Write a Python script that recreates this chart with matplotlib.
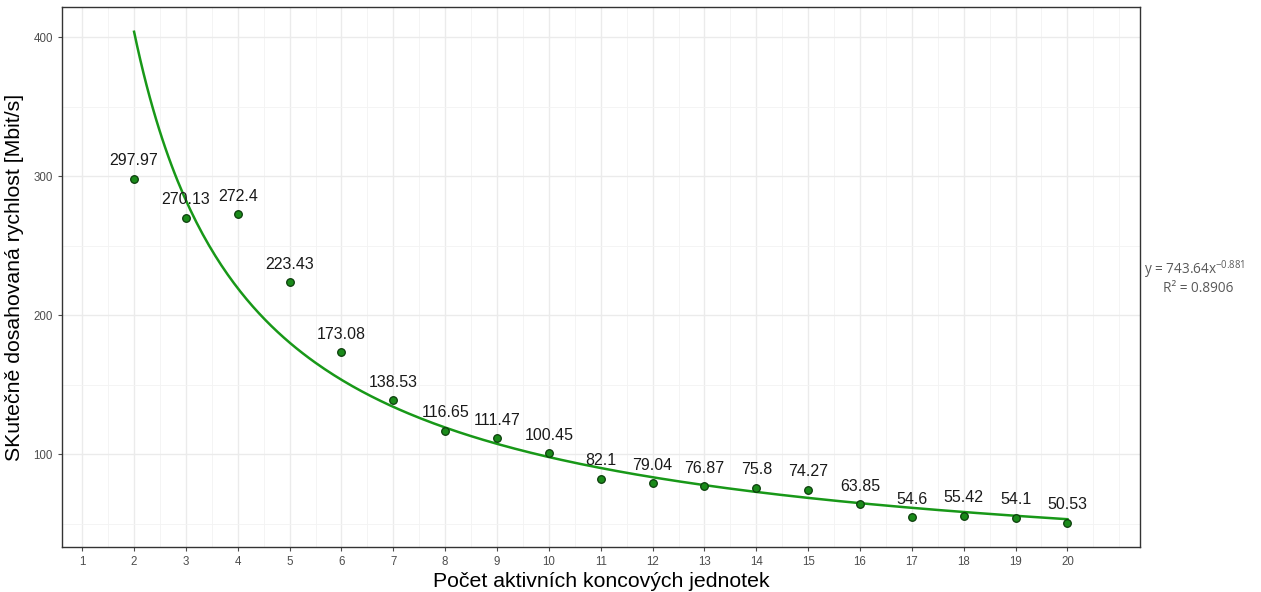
import numpy as np
import matplotlib
matplotlib.use("Agg")
import matplotlib.pyplot as plt
from matplotlib.ticker import MultipleLocator

plt.rcParams['font.family'] = ['Liberation Sans', 'DejaVu Sans']

units = [2, 3, 4, 5, 6, 7, 8, 9, 10, 11, 12, 13, 14, 15, 16, 17, 18, 19, 20]
speed = [297.97, 270.13, 272.4, 223.43, 173.08, 138.53, 116.65, 111.47, 100.45,
         82.1, 79.04, 76.87, 75.8, 74.27, 63.85, 54.6, 55.42, 54.1, 50.53]
labels = ["297.97", "270.13", "272.4", "223.43", "173.08", "138.53", "116.65",
          "111.47", "100.45", "82.1", "79.04", "76.87", "75.8", "74.27", "63.85",
          "54.6", "55.42", "54.1", "50.53"]
fit_a = 743.64
fit_b = -0.881
fit_r2 = 0.8906
x_ticks = list(range(1, 21))
y_ticks = [100, 200, 300, 400]

fig = plt.figure(figsize=(12.61, 5.92), dpi=100)
ax = fig.add_axes([62/1261, 1-547/592, (1140-62)/1261, (547-7)/592])

xs = np.linspace(min(units), max(units), 300)
ax.plot(xs, fit_a * xs ** fit_b, color="#189818", lw=1.8, zorder=3)
ax.scatter(units, speed, s=30, facecolor="#1a8a1a", edgecolor="#0b3d0b", linewidth=0.9, zorder=4)
for x, y, t in zip(units, speed, labels):
    ax.annotate(t, (x, y), xytext=(0, 13), textcoords="offset points",
                ha="center", va="center", fontsize=11.5, color="#1a1a1a", zorder=5)

ax.set_xlim(0.61, 21.4)
ax.set_ylim(33.1, 421.6)
ax.set_xticks(x_ticks)
ax.set_yticks(y_ticks)
ax.xaxis.set_minor_locator(MultipleLocator(0.5))
ax.yaxis.set_minor_locator(MultipleLocator(50))
ax.grid(True, which="major", color="#ebebeb", lw=1.0)
ax.grid(True, which="minor", color="#f3f3f3", lw=0.6)
ax.set_axisbelow(True)
ax.tick_params(which="major", length=3, color="#4d4d4d", labelcolor="#4d4d4d", labelsize=8.3)
ax.tick_params(which="minor", length=0)
for s in ax.spines.values():
    s.set_color("#333333")
    s.set_linewidth(1.0)

ax.set_xlabel("Počet aktivních koncových jednotek", fontsize=15.3, color="black", labelpad=3)
ax.set_ylabel("SKutečně dosahovaná rychlost [Mbit/s]", fontsize=15.3, color="black", labelpad=7)

eq = r"y = %.2fx$^{\mathregular{%.3f}}$" % (fit_a, fit_b)
fig.text(1195/1261, 1-270/592, eq, ha="center", va="center", fontsize=9.8,
         color="#595959", family="Open Sans")
fig.text(1198/1261, 1-288/592, f"R² = {fit_r2}", ha="center", va="center",
         fontsize=9.8, color="#595959", family="Open Sans")

fig.savefig("out.png", dpi=100, facecolor="white")
